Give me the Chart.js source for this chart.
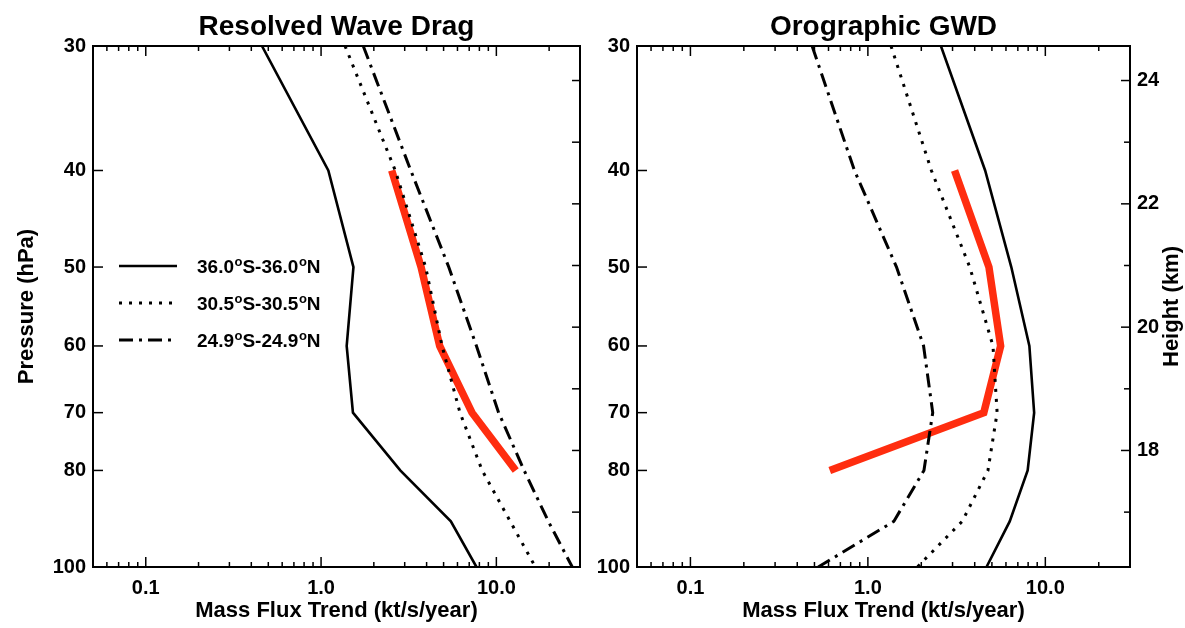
<!DOCTYPE html>
<html>
<head>
<meta charset="utf-8">
<script src="https://cdn.jsdelivr.net/npm/chart.js@4.4.1/dist/chart.umd.min.js"></script>
<style>
  body { margin: 0; background: #fff; }
  .panel { position: absolute; top: 0; height: 628px; }
</style>
</head>
<body>
<div class="panel" style="left:0;width:592px"><canvas id="resolvedChart"></canvas></div>
<div class="panel" style="left:592px;width:593px"><canvas id="orographicChart"></canvas></div>
<script>
// pressure levels (hPa) of the profiles
const pressureLevels = [30, 40, 50, 60, 70, 80, 90, 100];
const trendLevels = [40, 50, 60, 70, 80];
const latBands = ['36.0°S-36.0°N', '30.5°S-30.5°N', '24.9°S-24.9°N'];

// Resolved wave drag, mass flux trend (kt/s/year)
const resolved36 = [0.46, 1.10, 1.53, 1.40, 1.52, 2.83, 5.5, 7.7];
const resolved30 = [1.37, 2.65, 3.95, 4.9, 6.2, 8.3, 12.0, 16.7];
const resolved25 = [1.74, 3.25, 5.35, 7.7, 10.3, 14.4, 19.8, 27.1];
const resolvedTrend = [2.53, 3.72, 4.75, 7.26, 12.9];

// Orographic GWD
const orog36 = [2.58, 4.58, 6.43, 8.13, 8.65, 7.95, 6.3, 4.66];
const orog30 = [1.35, 2.28, 3.75, 5.07, 5.35, 4.75, 3.4, 1.9];
const orog25 = [0.485, 0.84, 1.45, 2.06, 2.32, 2.07, 1.40, 0.525];
const orogTrend = [3.08, 4.81, 5.60, 4.5, 0.61];

// axis ticks
const pressureTicks = [30, 40, 50, 60, 70, 80, 100];
const fluxTicks = [0.1, 1, 10];
const heightTicks = [18, 20, 22, 24];
const heightRange = [16.11, 24.56]; // km at 100 hPa and 30 hPa

const FONT = '"Liberation Sans", Arial, Helvetica, sans-serif';
const RED = 'rgb(255,45,15)';

function toPoints(xs, ps) {
  return xs.map((v, i) => ({ x: v, y: ps[i] }));
}

function makeDatasets(a, b, c, trend) {
  return [
    { label: latBands[0], data: toPoints(a, pressureLevels), borderColor: '#000', borderWidth: 2.6 },
    { label: latBands[1], data: toPoints(b, pressureLevels), borderColor: '#000', borderWidth: 3, borderDash: [3, 7] },
    { label: latBands[2], data: toPoints(c, pressureLevels), borderColor: '#000', borderWidth: 3, borderDash: [14, 6, 3, 6] },
    { label: 'trend', data: toPoints(trend, trendLevels), borderColor: RED, borderWidth: 7.5, noLegend: true }
  ];
}

// titles, inward ticks, frame and in-plot legend
const panelDecor = {
  id: 'panelDecor',
  afterDatasetsDraw(chart, args, opts) {
    const { ctx, chartArea: a, scales } = chart;
    ctx.save();
    ctx.strokeStyle = '#000';
    ctx.fillStyle = '#000';
    ctx.lineWidth = 1.5;
    const seg = (x1, y1, x2, y2) => { ctx.beginPath(); ctx.moveTo(x1, y1); ctx.lineTo(x2, y2); ctx.stroke(); };

    // log ticks on bottom and top
    const xs = scales.x;
    for (let e = -2; e <= 1; e++) {
      for (let k = 1; k <= 9; k++) {
        const v = k * Math.pow(10, e);
        if (v < xs.min * 0.999 || v > xs.max * 1.001) continue;
        const px = xs.getPixelForValue(v);
        const len = k === 1 ? 10 : 5;
        seg(px, a.bottom, px, a.bottom - len);
        seg(px, a.top, px, a.top + len);
      }
    }
    // pressure ticks on the left
    const ys = scales.y;
    pressureTicks.forEach(p => {
      const py = ys.getPixelForValue(p);
      seg(a.left, py, a.left + 10, py);
    });
    // height ticks on the right
    const hs = scales.h;
    for (let z = 17; z <= 24; z++) {
      const py = hs.getPixelForValue(z);
      const len = opts.heightLabels ? (z % 2 === 0 ? 9 : 6) : 8;
      seg(a.right, py, a.right - len, py);
    }

    // frame
    ctx.lineWidth = 2;
    ctx.strokeRect(a.left, a.top, a.right - a.left, a.bottom - a.top);

    // title
    ctx.font = 'bold 28px ' + FONT;
    ctx.textAlign = 'center';
    ctx.textBaseline = 'alphabetic';
    ctx.fillText(opts.title, (a.left + a.right) / 2, 35);

    // right axis title
    if (opts.heightLabels) {
      ctx.save();
      ctx.translate(opts.heightTitleX, (a.top + a.bottom) / 2);
      ctx.rotate(-Math.PI / 2);
      ctx.font = 'bold 22px ' + FONT;
      ctx.textBaseline = 'middle';
      ctx.fillText('Height (km)', 0, 0);
      ctx.restore();
    }

    // legend
    ctx.textAlign = 'left';
    const rows = [266, 303, 340];
    chart.data.datasets.filter(d => !d.noLegend).forEach((d, i) => {
      const y = rows[i];
      ctx.save();
      ctx.strokeStyle = d.borderColor;
      ctx.lineWidth = d.borderWidth;
      ctx.setLineDash(d.borderDash || []);
      seg(opts.legendX, y, opts.legendX + 58, y);
      ctx.restore();
      let cx = opts.legendX + 78;
      const parts = d.label.split('°');
      parts.forEach((part, j) => {
        ctx.font = 'bold 19px ' + FONT;
        ctx.fillText(part, cx, y + 7);
        cx += ctx.measureText(part).width;
        if (j < parts.length - 1) {
          ctx.font = 'bold 13px ' + FONT;
          ctx.fillText('o', cx + 0.5, y - 0.5);
          cx += ctx.measureText('o').width + 0.5;
        }
      });
    });
    ctx.restore();
  }
};

function makeChart(id, datasets, cfg) {
  return new Chart(document.getElementById(id), {
    type: 'line',
    data: { datasets },
    plugins: [panelDecor],
    options: {
      responsive: true,
      maintainAspectRatio: false,
      animation: false,
      layout: { padding: { top: 46, left: 0, right: 0, bottom: 0 } },
      elements: { point: { radius: 0 }, line: { tension: 0, borderJoinStyle: 'miter' } },
      plugins: {
        legend: { display: false },
        tooltip: { enabled: false },
        panelDecor: cfg
      },
      scales: {
        x: {
          type: 'logarithmic',
          position: 'bottom',
          min: 0.05,
          max: 30,
          afterBuildTicks: s => { s.ticks = fluxTicks.map(v => ({ value: v })); },
          afterFit: s => { s.height = 61; },
          grid: { display: false, drawTicks: false },
          border: { display: false },
          ticks: {
            autoSkip: false, maxRotation: 0, padding: 9, color: '#000',
            font: { family: FONT, size: 20, weight: 'bold' },
            callback: v => Number(v).toFixed(1)
          },
          title: {
            display: true, text: 'Mass Flux Trend (kt/s/year)', color: '#000',
            font: { family: FONT, size: 22, weight: 'bold' },
            padding: { top: 0, bottom: 4 }
          }
        },
        y: {
          type: 'logarithmic',
          position: 'left',
          reverse: true,
          min: 30,
          max: 100,
          afterBuildTicks: s => { s.ticks = pressureTicks.map(v => ({ value: v })); },
          afterFit: s => { s.width = cfg.leftWidth; },
          grid: { display: false, drawTicks: false },
          border: { display: false },
          ticks: {
            autoSkip: false, padding: 7, color: '#000',
            font: { family: FONT, size: 20, weight: 'bold' },
            callback: v => String(v)
          },
          title: {
            display: cfg.pressureTitle, text: 'Pressure (hPa)', color: '#000',
            font: { family: FONT, size: 22, weight: 'bold' },
            padding: { top: 14, bottom: 0 }
          }
        },
        h: {
          type: 'linear',
          position: 'right',
          display: true,
          min: heightRange[0],
          max: heightRange[1],
          afterBuildTicks: s => { s.ticks = heightTicks.map(v => ({ value: v })); },
          afterFit: s => { s.width = cfg.rightWidth; },
          grid: { display: false, drawTicks: false },
          border: { display: false },
          ticks: {
            display: cfg.heightLabels, autoSkip: false, padding: 7, color: '#000',
            font: { family: FONT, size: 20, weight: 'bold' },
            callback: v => String(v)
          }
        }
      }
    }
  });
}

makeChart('resolvedChart', makeDatasets(resolved36, resolved30, resolved25, resolvedTrend), {
  title: 'Resolved Wave Drag', leftWidth: 93, rightWidth: 12,
  pressureTitle: true, heightLabels: false, legendX: 119
});

makeChart('orographicChart', makeDatasets(orog36, orog30, orog25, orogTrend), {
  title: 'Orographic GWD', leftWidth: 45, rightWidth: 55,
  pressureTitle: false, heightLabels: true, heightTitleX: 580, legendX: 666
});
</script>
</body>
</html>
